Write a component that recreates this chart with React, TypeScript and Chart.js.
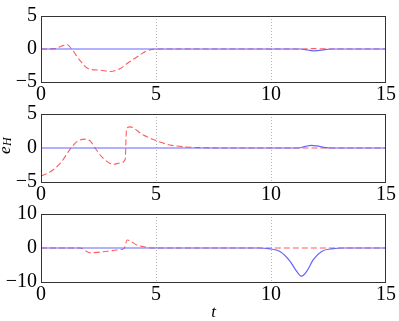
import React, { useEffect, useRef } from 'react';
import { Chart, registerables } from 'chart.js';

Chart.register(...registerables);

// ---------- data ----------
const tMin = 0;
const tMax = 15;
const tStep = 5;

// panel 1 (top)
const p1BlueT = [0, 11.3, 11.6, 11.9, 12.2, 12.6, 15];
const p1BlueY = [0, 0, -0.15, -0.28, -0.18, 0, 0];
const p1RedT = [0, 0.6, 0.9, 1.12, 1.33, 1.7, 2.06, 2.56, 3.0, 3.43, 3.74, 4.17, 4.6, 5.0, 6, 11.4, 11.8, 12.2, 12.6, 15];
const p1RedY = [0, 0.05, 0.45, 0.7, 0, -1.76, -3.0, -3.2, -3.4, -3.0, -2.2, -1.2, -0.3, 0, 0, 0, 0.05, 0.04, 0, 0];

// panel 2 (middle, e_H)
const p2BlueT = [0, 11.2, 11.5, 11.75, 12.0, 12.3, 12.6, 15];
const p2BlueY = [0, 0, 0.25, 0.4, 0.3, 0.1, 0, 0];
const p2RedT = [0, 0.4, 0.85, 1.26, 1.55, 1.91, 2.15, 2.35, 2.7, 3.14, 3.45, 3.66, 3.72, 3.87, 4.45, 5.0, 5.6, 6.33, 7.0, 8, 15];
const p2RedY = [-4.1, -3.5, -2.2, -0.2, 0.9, 1.3, 1.0, 0, -1.5, -2.4, -2.2, -1.7, 2.9, 3.1, 1.9, 1.1, 0.45, 0.15, 0.05, 0, 0];

// panel 3 (bottom)
const p3BlueT = [0, 9.5, 9.9, 10.39, 10.83, 11.12, 11.33, 11.55, 11.84, 12.2, 12.7, 13.1, 15];
const p3BlueY = [0, 0, -0.2, -1.0, -3.9, -6.9, -8.3, -6.9, -3.4, -1.0, -0.2, 0, 0];
const p3RedT = [0, 1.7, 2.13, 2.7, 3.29, 3.62, 3.75, 4.16, 4.52, 4.85, 15];
const p3RedY = [0, 0, -1.4, -1.1, -0.6, -0.1, 2.35, 0.9, 0.3, 0, 0];

const p1YRange = [-5, 5];
const p2YRange = [-5, 5];
const p3YRange = [-10, 10];
const p1YStep = 5;
const p2YStep = 5;
const p3YStep = 10;

const xLabel = 't';
const yLabelMain = 'e';
const yLabelSub = 'H';

// ---------- styling ----------
const W = 399;
const H = 321;
const BLUE = '#6464ff';
const RED = '#ff5c5c';
const SERIF = "'Liberation Serif', 'Times New Roman', Times, serif";

Chart.defaults.font.family = SERIF;

const toPts = (xs: number[], ys: number[]) => xs.map((x, i) => ({ x, y: ys[i] }));

const fmt = (v: number) => (v < 0 ? '\u2212' + Math.abs(v) : String(v));

const framePlugin = {
  id: 'frame',
  afterDatasetsDraw(chart: any) {
    const { ctx, chartArea } = chart;
    ctx.save();
    ctx.strokeStyle = '#333333';
    ctx.lineWidth = 1;
    ctx.strokeRect(
      Math.round(chartArea.left) + 0.5,
      Math.round(chartArea.top) + 0.5,
      Math.round(chartArea.right - chartArea.left) - 1,
      Math.round(chartArea.bottom - chartArea.top)
    );
    ctx.restore();
  },
};

const eHPlugin = {
  id: 'eHLabel',
  afterDraw(chart: any) {
    const { ctx, chartArea } = chart;
    const cy = (chartArea.top + chartArea.bottom) / 2;
    ctx.save();
    ctx.fillStyle = '#000';
    ctx.textBaseline = 'alphabetic';
    ctx.textAlign = 'left';
    ctx.font = `italic 17px ${SERIF}`;
    const we = ctx.measureText(yLabelMain).width;
    ctx.font = `italic 12px ${SERIF}`;
    const wh = ctx.measureText(yLabelSub).width;
    const total = we + wh;
    ctx.translate(9.5, cy + total / 2 - 2);
    ctx.rotate(-Math.PI / 2);
    ctx.font = `italic 17px ${SERIF}`;
    ctx.fillText(yLabelMain, 0, 0);
    ctx.font = `italic 12px ${SERIF}`;
    ctx.fillText(yLabelSub, we + 0.5, 1.5);
    ctx.restore();
  },
};

type Panel = {
  blue: { x: number; y: number }[];
  red: { x: number; y: number }[];
  yMin: number;
  yMax: number;
  yStep: number;
  top: number;
  bottom: number; // plot bottom pixel
  showT: boolean;
  eH: boolean;
};

const panels: Panel[] = [
  { blue: toPts(p1BlueT, p1BlueY), red: toPts(p1RedT, p1RedY), yMin: p1YRange[0], yMax: p1YRange[1], yStep: p1YStep, top: 14, bottom: 82, showT: false, eH: false },
  { blue: toPts(p2BlueT, p2BlueY), red: toPts(p2RedT, p2RedY), yMin: p2YRange[0], yMax: p2YRange[1], yStep: p2YStep, top: 114, bottom: 182, showT: false, eH: true },
  { blue: toPts(p3BlueT, p3BlueY), red: toPts(p3RedT, p3RedY), yMin: p3YRange[0], yMax: p3YRange[1], yStep: p3YStep, top: 214, bottom: 282, showT: true, eH: false },
];

function makeConfig(p: Panel): any {
  const xH = p.showT ? H - p.bottom : 30;
  const padBottom = H - p.bottom - xH;
  return {
    type: 'line',
    data: {
      datasets: [
        {
          data: p.blue,
          borderColor: BLUE,
          borderWidth: 1.2,
          pointRadius: 0,
          cubicInterpolationMode: 'monotone',
          fill: false,
        },
        {
          data: p.red,
          borderColor: RED,
          borderWidth: 1.1,
          borderDash: [6, 3],
          pointRadius: 0,
          cubicInterpolationMode: 'monotone',
          fill: false,
        },
      ],
    },
    options: {
      animation: false,
      responsive: false,
      maintainAspectRatio: false,
      events: [],
      layout: { padding: { top: p.top, bottom: padBottom, left: 0, right: W - 386 } },
      plugins: { legend: { display: false }, tooltip: { enabled: false }, title: { display: false } },
      scales: {
        x: {
          type: 'linear',
          min: tMin,
          max: tMax,
          ticks: {
            stepSize: tStep,
            color: '#000',
            font: { family: SERIF, size: 20 },
            padding: 1,
            maxRotation: 0,
            callback: (v: number) => fmt(v),
          },
          grid: {
            drawTicks: false,
            lineWidth: 1,
            color: (c: any) => (c.tick && (c.tick.value === 5 || c.tick.value === 10) ? '#b4b4b4' : 'rgba(0,0,0,0)'),
          },
          border: { display: false, dash: [1, 2] },
          title: {
            display: p.showT,
            text: xLabel,
            color: '#000',
            font: { family: SERIF, size: 17, style: 'italic', lineHeight: 1 },
            padding: 0,
          },
          afterFit: (s: any) => {
            s.height = xH;
          },
        },
        y: {
          type: 'linear',
          min: p.yMin,
          max: p.yMax,
          ticks: {
            stepSize: p.yStep,
            color: '#000',
            font: { family: SERIF, size: 20 },
            padding: 4,
            callback: (v: number) => fmt(v),
          },
          grid: { display: false, drawTicks: false },
          border: { display: false },
          afterFit: (s: any) => {
            s.width = 41;
          },
        },
      },
    },
    plugins: p.eH ? [framePlugin, eHPlugin] : [framePlugin],
  };
}

function PanelCanvas({ p }: { p: Panel }) {
  const ref = useRef<HTMLCanvasElement | null>(null);
  useEffect(() => {
    if (!ref.current) return;
    const chart = new Chart(ref.current, makeConfig(p));
    return () => chart.destroy();
  }, [p]);
  return (
    <canvas
      ref={ref}
      width={W}
      height={H}
      style={{ position: 'absolute', left: 0, top: 0, width: W, height: H }}
    />
  );
}

export default function App() {
  return (
    <div style={{ position: 'fixed', left: 0, top: 0, width: W, height: H, background: '#fff', overflow: 'hidden' }}>
      {panels.map((p, i) => (
        <PanelCanvas key={i} p={p} />
      ))}
    </div>
  );
}
